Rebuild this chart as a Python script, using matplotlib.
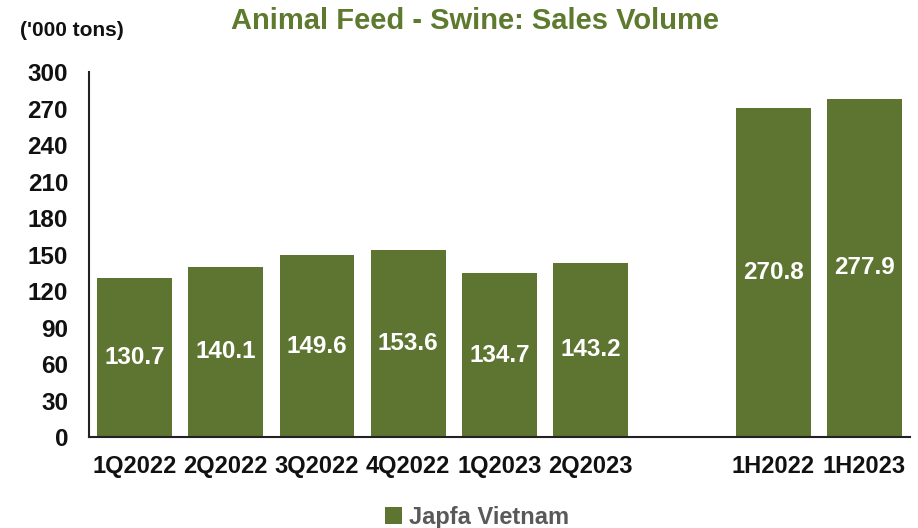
import numpy as np
import matplotlib.pyplot as plt

plt.rcParams['font.family'] = ['Liberation Sans', 'DejaVu Sans']

# ── Data ────────────────────────────────────────────────────────────────────
categories = ['1Q2022', '2Q2022', '3Q2022', '4Q2022', '1Q2023', '2Q2023',
              '1H2022', '1H2023']
positions = [0, 1, 2, 3, 4, 5, 7, 8]
volumes = [130.7, 140.1, 149.6, 153.6, 134.7, 143.2, 270.8, 277.9]
y_ticks = list(range(0, 301, 30))

BAR = '#5E7431'
TITLE = '#5E7A2E'

fig = plt.figure(figsize=(9.18, 5.28), dpi=100)
ax = fig.add_axes([0.0969, 0.1723, 0.8944, 0.6913])

bars = ax.bar(positions, volumes, width=0.82, color=BAR, label='Japfa Vietnam',
              zorder=2)
for b, v in zip(bars, volumes):
    ax.text(b.get_x() + b.get_width() / 2, v / 2, f'{v:.1f}',
            ha='center', va='center', color='white', fontsize=17.5,
            fontweight='bold', zorder=3)

ax.set_xlim(-0.5, 8.5)
ax.set_ylim(0, 300)
ax.set_yticks(y_ticks)
ax.set_xticks(positions)
ax.set_xticklabels(categories)
ax.tick_params(axis='both', length=0)
ax.tick_params(axis='y', pad=15, labelsize=17.5)
ax.tick_params(axis='x', pad=13, labelsize=17)
for lbl in ax.get_xticklabels() + ax.get_yticklabels():
    lbl.set_fontweight('bold')
    lbl.set_color('#111111')

for s in ('top', 'right'):
    ax.spines[s].set_visible(False)
for s in ('left', 'bottom'):
    ax.spines[s].set_linewidth(1.5)
    ax.spines[s].set_color('#222222')

fig.text(0.517, 0.960, 'Animal Feed - Swine: Sales Volume', ha='center',
         va='center', fontsize=21, fontweight='bold', color=TITLE)
fig.text(0.022, 0.942, "('000 tons)", ha='left', va='center', fontsize=15,
         fontweight='bold', color='#111111')

leg = fig.legend(loc='center', bbox_to_anchor=(0.52, 0.020), frameon=False,
                 handlelength=0.7, handleheight=0.7, handletextpad=0.3,
                 prop={'weight': 'bold', 'size': 17})
for t in leg.get_texts():
    t.set_color('#595959')

fig.savefig('out.png', dpi=100)
plt.close(fig)
